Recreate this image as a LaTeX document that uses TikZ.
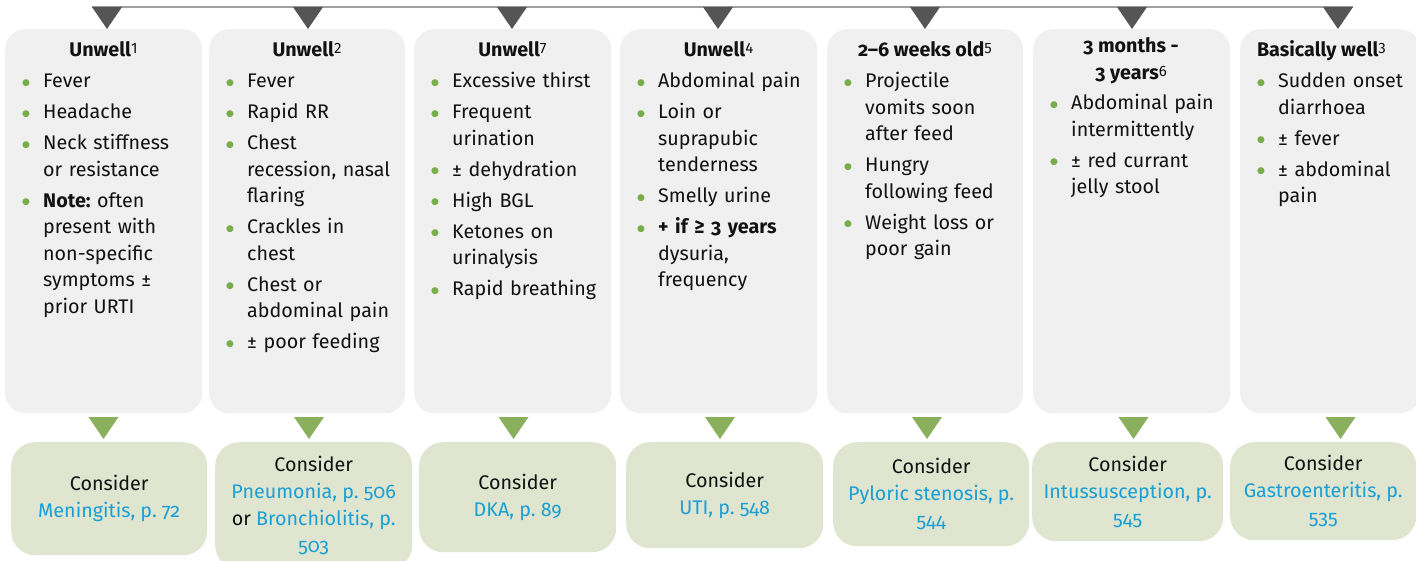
\documentclass[tikz,border=0pt]{standalone}
\usepackage{fontspec}
\setmainfont{Fira Sans}[Numbers=OldStyle]
\newfontfamily\dejavu{DejaVu Sans}
\usetikzlibrary{calc}
\frenchspacing
\definecolor{boxgray}{HTML}{F0F0F0}
\definecolor{boxgreen}{HTML}{DFE5CF}
\definecolor{trigreen}{HTML}{8AB05E}
\definecolor{tridark}{HTML}{555555}
\definecolor{linegray}{HTML}{A0A0A0}
\definecolor{bul}{HTML}{78AE4A}
\definecolor{linkblue}{HTML}{1A9FD6}
\definecolor{txt}{HTML}{111111}
\newcommand{\supn}[1]{\raisebox{3pt}{\mdseries\fontsize{15}{15}\selectfont\addfontfeature{Numbers=Lining}#1}}
\newcommand{\bdot}{\raisebox{2.5pt}{\textcolor{bul}{\dejavu\fontsize{9}{9}\selectfont ●}}}
\newcommand{\bitem}[1]{\noindent\hangindent=23pt\hangafter=1\makebox[23pt][l]{\hspace{2pt}\bdot}#1\par}
\newcommand{\lnk}[1]{\textcolor{linkblue}{#1}}
\begin{document}
\begin{tikzpicture}[x=1pt,y=-1pt,
  graybox/.style={fill=boxgray, rounded corners=20pt, anchor=north west, inner sep=0pt, minimum height=384pt},
  greenbox/.style={fill=boxgreen, rounded corners=24pt, anchor=north west, inner sep=0pt, align=center, text=txt, font=\fontsize{19.7}{27}\selectfont\frenchspacing},
  titletext/.style={anchor=base, inner sep=0pt, align=center, text=txt, font=\bfseries\fontsize{19.7}{27}\selectfont},
  listtext/.style={anchor=base west, inner sep=0pt, text width=200pt, align=left, text=txt, font=\fontsize{19.7}{26.5}\selectfont\frenchspacing\setlength{\parskip}{4.5pt}},
  topline/.style={draw=linegray, line width=1.2pt},
  darktri/.style={fill=tridark},
  greentri/.style={fill=trigreen}]
\useasboundingbox (0,0) rectangle (1416,561);

% grey condition boxes
\node[graybox, minimum width=197pt] (g1) at (5,29) {};
\node[graybox, minimum width=196pt] (g2) at (209,29) {};
\node[graybox, minimum width=197pt] (g3) at (414,29) {};
\node[graybox, minimum width=197pt] (g4) at (620,29) {};
\node[graybox, minimum width=196pt] (g5) at (827,29) {};
\node[graybox, minimum width=197pt] (g6) at (1033,29) {};
\node[graybox, minimum width=180pt] (g7) at (1240,29) {};

% green result boxes
\node[greenbox, minimum width=196pt, minimum height=113pt] (c1) at (11,442) {Consider\\\lnk{Meningitis, p. 72}};
\node[greenbox, minimum width=197pt, minimum height=127pt] (c2) at (215,442) {Consider\\\lnk{Pneumonia, p. 506}\\or \lnk{Bronchiolitis, p.}\\\lnk{503}};
\node[greenbox, minimum width=197pt, minimum height=110pt] (c3) at (419,442) {Consider\\\lnk{DKA, p. 89}};
\node[greenbox, minimum width=197pt, minimum height=106pt] (c4) at (626,442) {Consider\\\lnk{UTI, p. 548}};
\node[greenbox, minimum width=196pt, minimum height=104pt] (c5) at (833,442) {Consider\\\lnk{Pyloric stenosis, p.}\\\lnk{544}};
\node[greenbox, minimum width=191pt, minimum height=99pt] (c6) at (1032,442) {Consider\\\lnk{Intussusception, p.}\\\lnk{545}};
\node[greenbox, minimum width=186pt, minimum height=98pt] (c7) at (1230,442) {Consider\\\lnk{Gastroenteritis, p.}\\\lnk{535}};

% top line and dark triangles
\coordinate (L0) at (92,7);
\coordinate (L1) at (1353,7);
\draw[topline] (L0) -- (L1);
\foreach \n/\x in {1/107,2/308,3/512,4/718,5/925,6/1132,7/1338}{
  \coordinate (d\n) at (\x,29);
  \fill[darktri] (d\n) -- ++(-15,-22) -- ++(30,0) -- cycle;
}
% green triangles
\foreach \n/\x in {1/103.5,2/309,3/513.5,4/720,5/927,6/1133.5,7/1340.5}{
  \coordinate (e\n) at (\x,439);
  \fill[greentri] (e\n) -- ++(-15,-22) -- ++(30,0) -- cycle;
}

% titles
\node[titletext] (h1) at (103.5,57) {Unwell\supn{1}};
\node[titletext] (h2) at (307,57) {Unwell\supn{2}};
\node[titletext] (h3) at (512.5,57) {Unwell\supn{7}};
\node[titletext] (h4) at (718.5,57) {Unwell\supn{4}};
\node[titletext] (h5) at (925,57) {2–6 weeks old\supn{5}};
\node[titletext] (h6) at (1131,80) {3 months -\\3 years\supn{6}};
\node[titletext] (h7) at (1321.5,57) {Basically well\supn{3}};

% lists
\node[listtext] (l1) at (20,88) {\bitem{Fever}\bitem{Headache}\bitem{Neck stiffness\newline or resistance}\bitem{\textbf{Note:} often\newline present with\newline non-specific\newline symptoms ±\newline prior URTI}};
\node[listtext] (l2) at (224,88) {\bitem{Fever}\bitem{Rapid RR}\bitem{Chest\newline recession, nasal\newline flaring}\bitem{Crackles in\newline chest}\bitem{Chest or\newline abdominal pain}\bitem{± poor feeding}};
\node[listtext] (l3) at (429,88) {\bitem{Excessive thirst}\bitem{Frequent\newline urination}\bitem{± dehydration}\bitem{High BGL}\bitem{Ketones on\newline urinalysis}\bitem{Rapid breathing}};
\node[listtext] (l4) at (635,88) {\bitem{Abdominal pain}\bitem{Loin or\newline suprapubic\newline tenderness}\bitem{Smelly urine}\bitem{\textbf{+ if ≥ 3 years}\newline dysuria,\newline frequency}};
\node[listtext] (l5) at (842,88) {\bitem{Projectile\newline vomits soon\newline after feed}\bitem{Hungry\newline following feed}\bitem{Weight loss or\newline poor gain}};
\node[listtext] (l6) at (1048,110) {\bitem{Abdominal pain\newline intermittently}\bitem{± red currant\newline jelly stool}};
\node[listtext] (l7) at (1255,88) {\bitem{Sudden onset\newline diarrhoea}\bitem{± fever}\bitem{± abdominal\newline pain}};
\end{tikzpicture}
\end{document}
